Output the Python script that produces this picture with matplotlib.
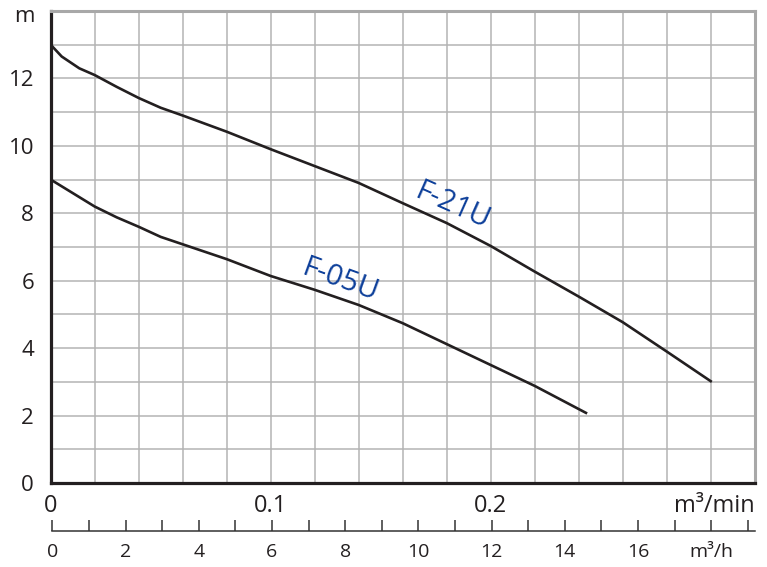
import numpy as np
import matplotlib
matplotlib.use('Agg')
import matplotlib.pyplot as plt

# Pump curves (flow in m3/min, head in m)
flow_f21u = [0, 0.005, 0.013, 0.02, 0.03, 0.04, 0.05, 0.06, 0.08, 0.10, 0.12, 0.14,
             0.16, 0.18, 0.20, 0.22, 0.24, 0.26, 0.28, 0.30]
head_f21u = [13.0, 12.65, 12.3, 12.1, 11.75, 11.42, 11.13, 10.9, 10.42, 9.9, 9.4, 8.9,
             8.3, 7.71, 7.03, 6.27, 5.53, 4.77, 3.9, 3.02]

flow_f05u = [0, 0.01, 0.02, 0.03, 0.04, 0.05, 0.06, 0.08, 0.10, 0.12, 0.14, 0.16,
             0.18, 0.20, 0.22, 0.2433]
head_f05u = [9.0, 8.6, 8.2, 7.88, 7.6, 7.3, 7.08, 6.64, 6.14, 5.73, 5.28, 4.74,
             4.12, 3.50, 2.88, 2.08]

x_major = [0, 0.1, 0.2]
x_major_labels = ['0', '0.1', '0.2']
y_labels = [0, 2, 4, 6, 8, 10, 12]
h_ticks = list(range(0, 20))
h_labels = ['0', '', '2', '', '4', '', '6', '', '8', '', '10', '', '12', '', '14', '',
            '16', '', 'm³/h', '']

plt.rcParams['font.family'] = ['Open Sans', 'DejaVu Sans']
text_col = '#231f20'
grid_col = '#b4b4b4'
line_col = '#231f20'
label_col = '#0d3f9a'

fig = plt.figure(figsize=(7.67, 5.67), dpi=100)
left, right = 50.7 / 767, 754.7 / 767
bottom, top = 1 - 483 / 567, 1 - 11 / 567
ax = fig.add_axes([left, bottom, right - left, top - bottom])

ax.plot(flow_f21u, head_f21u, color=line_col, lw=1.9, solid_joinstyle='round', zorder=3)
ax.plot(flow_f05u, head_f05u, color=line_col, lw=1.9, solid_joinstyle='round', zorder=3)

ax.text(0.1824, 8.22, 'F-21U', color=label_col, fontsize=21, rotation=-24,
        ha='center', va='center', rotation_mode='anchor')
ax.text(0.1315, 6.02, 'F-05U', color=label_col, fontsize=21, rotation=-20,
        ha='center', va='center', rotation_mode='anchor')

ax.set_xlim(0, 0.32)
ax.set_ylim(0, 14)
ax.set_xticks(x_major)
ax.set_xticklabels(x_major_labels)
ax.set_xticks(np.arange(0, 0.321, 0.02), minor=True)
ax.set_yticks(y_labels)
ax.set_yticks(np.arange(0, 14.1, 1), minor=True)
ax.grid(which='both', color=grid_col, lw=1.1)
ax.set_axisbelow(True)
ax.tick_params(which='both', length=0, colors=text_col)
ax.tick_params(axis='x', labelsize=17, pad=8)
ax.tick_params(axis='y', labelsize=16, pad=12)

for side in ['left', 'bottom']:
    ax.spines[side].set_color('#231f20')
    ax.spines[side].set_linewidth(2.3)
for side in ['top', 'right']:
    ax.spines[side].set_color('#a8a8a8')
    ax.spines[side].set_linewidth(2.2)

ax.annotate('m³/min', xy=(1.0, 0), xycoords='axes fraction', xytext=(0, -8),
            textcoords='offset points', ha='right', va='top', fontsize=17,
            color=text_col)
ax.annotate('m', xy=(0, 1.0), xycoords='axes fraction', xytext=(-19, -7.7),
            textcoords='offset points', ha='center', va='baseline', fontsize=16,
            color=text_col)

# second flow scale in m3/h
ax2 = fig.add_axes([52.3 / 767, 1 - 530.7 / 567, (755 - 52.3) / 767, 1e-5])
ax2.set_xlim(0, (755 - 52.3) / 36.6)
ax2.set_yticks([])
for side in ['left', 'right', 'top']:
    ax2.spines[side].set_visible(False)
ax2.spines['bottom'].set_color('#333333')
ax2.spines['bottom'].set_linewidth(1.1)
ax2.patch.set_visible(False)
ax2.set_xticks(h_ticks)
ax2.set_xticklabels(h_labels)
ax2.set_xticks([0], minor=True)
ax2.tick_params(axis='x', which='major', direction='in', length=8, width=1.1,
                color='#333333', labelsize=14, labelcolor=text_col, pad=9)
ax2.tick_params(axis='x', which='minor', direction='out', length=8, width=1.1,
                color='#333333', labelbottom=False)

fig.savefig('out.png', dpi=100)
